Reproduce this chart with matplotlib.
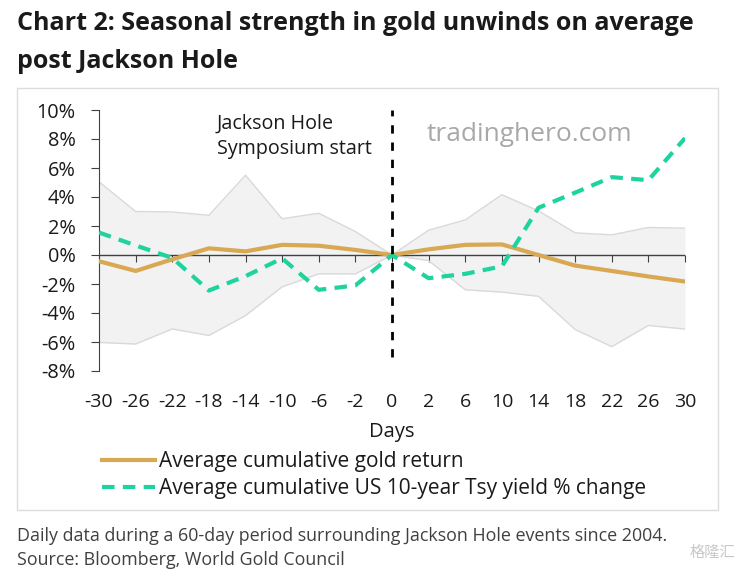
import numpy as np
import matplotlib
matplotlib.use('Agg')
import matplotlib.pyplot as plt
from matplotlib.patches import Rectangle

plt.rcParams['font.family'] = ['Open Sans', 'Noto Sans CJK SC', 'DejaVu Sans']

# days relative to Jackson Hole start
days = ['-30', '-26', '-22', '-18', '-14', '-10', '-6', '-2', '0',
        '2', '6', '10', '14', '18', '22', '26', '30']

# average cumulative gold return (%)
gold = [-0.43, -1.1, -0.3, 0.46, 0.25, 0.7, 0.64, 0.35, 0.0,
        0.39, 0.7, 0.73, 0.0, -0.73, -1.1, -1.48, -1.83]

# average cumulative US 10y yield % change
tsy = [1.55, 0.66, -0.2, -2.45, -1.46, -0.23, -2.4, -2.1, 0.0,
       -1.6, -1.3, -0.78, 3.26, 4.3, 5.37, 5.16, 8.06]

# gold range band (%)
band_hi = [5.05, 3.0, 2.97, 2.74, 5.5, 2.5, 2.88, 1.62, 0.0,
           1.71, 2.42, 4.16, 3.04, 1.53, 1.39, 1.9, 1.85]
band_lo = [-6.03, -6.14, -5.1, -5.55, -4.18, -2.2, -1.3, -1.3, 0.0,
           -0.39, -2.4, -2.56, -2.85, -5.14, -6.32, -4.86, -5.11]

yticks = [-8, -6, -4, -2, 0, 2, 4, 6, 8, 10]

gold_c = '#d8a853'
tsy_c = '#1fd39e'
txt_c = '#1a1a1a'

x = np.arange(len(days))

fig = plt.figure(figsize=(7.39, 5.72), dpi=100)

# frame around chart
fig.patches.append(Rectangle((17/739, 1-510/572), 701/739, 422/572, transform=fig.transFigure,
                             facecolor='none', edgecolor='#dcdcdc', linewidth=1.0))

ax = fig.add_axes([99/739, 1-371/572, 586/739, 261/572])

ax.fill_between(x, band_lo, band_hi, color='#f2f2f2', linewidth=0, zorder=1)
ax.plot(x, band_hi, color='#d9d9d9', linewidth=1.0, zorder=2)
ax.plot(x, band_lo, color='#d9d9d9', linewidth=1.0, zorder=2)
ax.axhline(0, color='#404040', linewidth=1.0, zorder=3)

l1, = ax.plot(x, gold, color=gold_c, linewidth=3.0, zorder=4, label='Average cumulative gold return')
l2, = ax.plot(x, tsy, color=tsy_c, linewidth=3.0, linestyle=(0, (3, 2)), zorder=5,
              label='Average cumulative US 10-year Tsy yield % change')

ax.vlines(x[days.index('0')], -7, 10, color='black', linewidth=2.0, linestyle=(0, (3, 3.2)), zorder=6)

ax.set_xlim(0, len(days) - 1)
ax.set_ylim(-8, 10)

for s in ['top', 'right']:
    ax.spines[s].set_visible(False)
ax.spines['left'].set_color('#404040')
ax.spines['bottom'].set_position(('data', 0))
ax.spines['bottom'].set_visible(False)

ax.set_yticks(yticks)
ax.set_yticklabels([f'{v}%' for v in yticks], fontsize=14.3, color=txt_c)
ax.tick_params(axis='y', length=6, color='#404040', pad=11)

ax.set_xticks(x)
ax.tick_params(axis='x', length=5, direction='out', color='#404040', labelbottom=False)

sec = ax.secondary_xaxis(0)
sec.set_xticks(x)
sec.set_xticklabels(days, fontsize=14, color=txt_c)
sec.tick_params(length=0, pad=16)
sec.spines['bottom'].set_visible(False)
sec.set_xlabel('Days', fontsize=14.5, color=txt_c, labelpad=8)

ax.text(3.22, 9.75, 'Jackson Hole\nSymposium start', fontsize=14.2, color=txt_c,
        ha='left', va='top', linespacing=1.35)
ax.text(8.95, 8.3, 'tradinghero.com', fontsize=19, color='#a8a8a8', ha='left', va='center')

fig.legend(handles=[l1, l2], loc='upper left', bbox_to_anchor=(102/739, 1-451/572),
           frameon=False, fontsize=15, handlelength=2.55, handletextpad=0.2,
           labelspacing=0.3, borderpad=0, borderaxespad=0, labelcolor=txt_c)

fig.text(17/739, 1-23/572, 'Chart 2: Seasonal strength in gold unwinds on average',
         fontsize=18, fontweight='bold', color=txt_c, ha='left', va='center')
fig.text(17/739, 1-61/572, 'post Jackson Hole',
         fontsize=18, fontweight='bold', color=txt_c, ha='left', va='center')

fig.text(17/739, 1-536/572, 'Daily data during a 60-day period surrounding Jackson Hole events since 2004.',
         fontsize=12.9, color='#404040', ha='left', va='center')
fig.text(17/739, 1-560/572, 'Source: Bloomberg, World Gold Council',
         fontsize=12.9, color='#404040', ha='left', va='center')
fig.text(735/739, 1-552/572, '格隆汇', fontsize=11, color='#c8c8c8', ha='right', va='center',
         family=['Noto Sans CJK SC', 'DejaVu Sans'])

fig.savefig('out.png', dpi=100)
